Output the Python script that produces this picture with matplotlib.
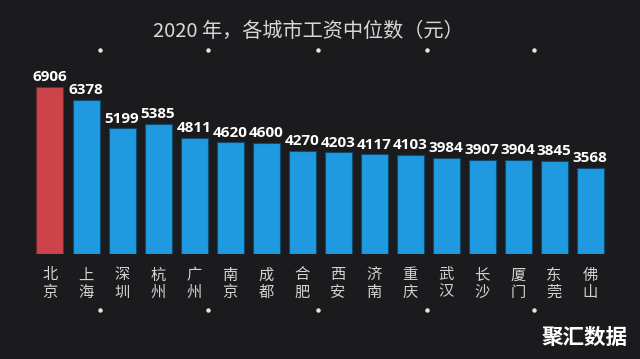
import matplotlib
matplotlib.use("Agg")
import matplotlib.pyplot as plt
import numpy as np

plt.rcParams["font.family"] = ["Noto Sans CJK SC", "DejaVu Sans"]

cities = ["北京", "上海", "深圳", "杭州", "广州", "南京", "成都", "合肥",
          "西安", "济南", "重庆", "武汉", "长沙", "厦门", "东莞", "佛山"]
wages = [6906, 6378, 5199, 5385, 4811, 4620, 4600, 4270,
         4203, 4117, 4103, 3984, 3907, 3904, 3845, 3568]
title = "2020 年，各城市工资中位数（元）"
watermark = "聚汇数据"

W, H = 640, 359
bg = "#1b1b1e"
fig = plt.figure(figsize=(W / 100, H / 100), dpi=100, facecolor=bg)

# bars: centre of first at 50 px, 36 px pitch, baseline at y=254 px
base_px = 254
ax = fig.add_axes([0, (H - base_px) / H, 1, base_px / H])
ax.set_facecolor("none")
x = np.arange(len(cities))
ax.set_xlim(-50 / 36, (W - 50) / 36)
ax.set_ylim(0, wages[0] * base_px / 167)
colors = ["#cc4449"] + ["#1f9ae0"] * (len(cities) - 1)
edges = ["#6a2a2e"] + ["#114a70"] * (len(cities) - 1)
ax.bar(x, wages, width=0.75, color=colors, edgecolor=edges, linewidth=0.8)
for xi, v in zip(x, wages):
    ax.annotate(str(v), (xi, v), xytext=(0, 2), textcoords="offset points",
                ha="center", va="bottom", color="white", fontsize=11,
                fontweight="bold", family=["Open Sans", "DejaVu Sans"],
                annotation_clip=False)
for xi, c in zip(x, cities):
    ax.annotate("\n".join(c), (xi, 0), xytext=(0, -9), textcoords="offset points",
                ha="center", va="top", color="#d2d2d2", fontsize=11,
                linespacing=1.0, annotation_clip=False)
for s in ax.spines.values():
    s.set_visible(False)
ax.set_xticks([])
ax.set_yticks([])

fig.text(308 / W, 1 - 31 / H, title, ha="center", va="center",
         color="#d8d8d8", fontsize=14.5)
fig.text(584 / W, 1 - 337 / H, watermark, ha="center", va="center",
         color="white", fontsize=15.5, fontweight="bold")

# decorative dots
dot_x = [100, 208, 318, 427, 534]
for dy in (50, 310):
    fig.add_artist(plt.Line2D([px / W for px in dot_x], [1 - dy / H] * len(dot_x),
                              ls="none", marker="o", ms=2.2, color="#e8e8d8",
                              transform=fig.transFigure))

fig.savefig("out.png", dpi=100, facecolor=bg)
